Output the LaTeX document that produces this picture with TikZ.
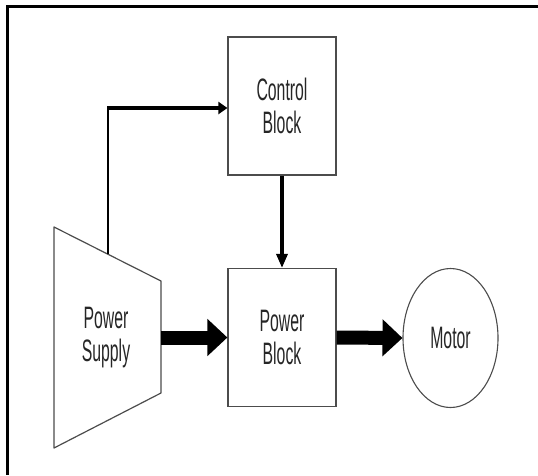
\documentclass[tikz,border=0pt]{standalone}
\usepackage{fontspec}
\setmainfont{Liberation Sans}
\newfontfamily\narrowsans[FakeStretch=0.51]{Liberation Sans}
\usetikzlibrary{arrows.meta,shapes.geometric}
\begin{document}
\begin{tikzpicture}[x=1pt,y=-1pt,
  lbl/.style={font=\narrowsans\fontsize{31}{33}\selectfont, text=black!85, align=center},
  blockbox/.style={draw=black!70, line width=1.2pt, minimum width=108pt, minimum height=138pt, inner sep=0pt, lbl},
  motorshape/.style={ellipse, draw=black!70, line width=1.1pt, minimum width=95pt, minimum height=139pt, inner sep=0pt, lbl},
  bigarrow/.style={line width=14pt, -{Triangle[width=36pt,length=20pt]}},
  thinarrow/.style={line width=3.2pt, -{Triangle[width=11pt,length=14pt]}}
]
\useasboundingbox (0,0) rectangle (538,475);
\fill[white] (0,0) rectangle (538,475);
% frame
\draw[line width=3pt] (538,6.5) -- (7.5,6.5) -- (7.5,475);

% nodes
\node[blockbox] (cb) at (282,106) {Control\\Block};
\node[blockbox] (pb) at (282,337.5) {Power\\Block};
\node[motorshape] (mot) at (450.5,338) {Motor};

% power supply trapezoid
\coordinate (psA) at (54,227);
\coordinate (psB) at (161,281);
\coordinate (psC) at (161,393);
\coordinate (psD) at (54,448);
\draw[draw=black!70, line width=1.2pt, line join=round] (psA) -- (psB) -- (psC) -- (psD) -- cycle;
\node[lbl] (ps) at (106,338) {Power\\Supply};
\coordinate (psR) at (161,337.5);
\coordinate (psTop) at (108,254);
\coordinate (corner) at (108,108);

% connectors
\draw[line width=2pt] (psTop) -- ([yshift=-1pt]corner);
\draw[line width=3.5pt, -{Triangle[width=12pt,length=9pt]}] ([xshift=-1pt]corner) -- (cb.west |- corner);
\draw[thinarrow] (cb.south) -- (pb.north);
\draw[bigarrow] (psR) -- (pb.west);
\draw[bigarrow] (pb.east) -- (mot.west);
\end{tikzpicture}
\end{document}
